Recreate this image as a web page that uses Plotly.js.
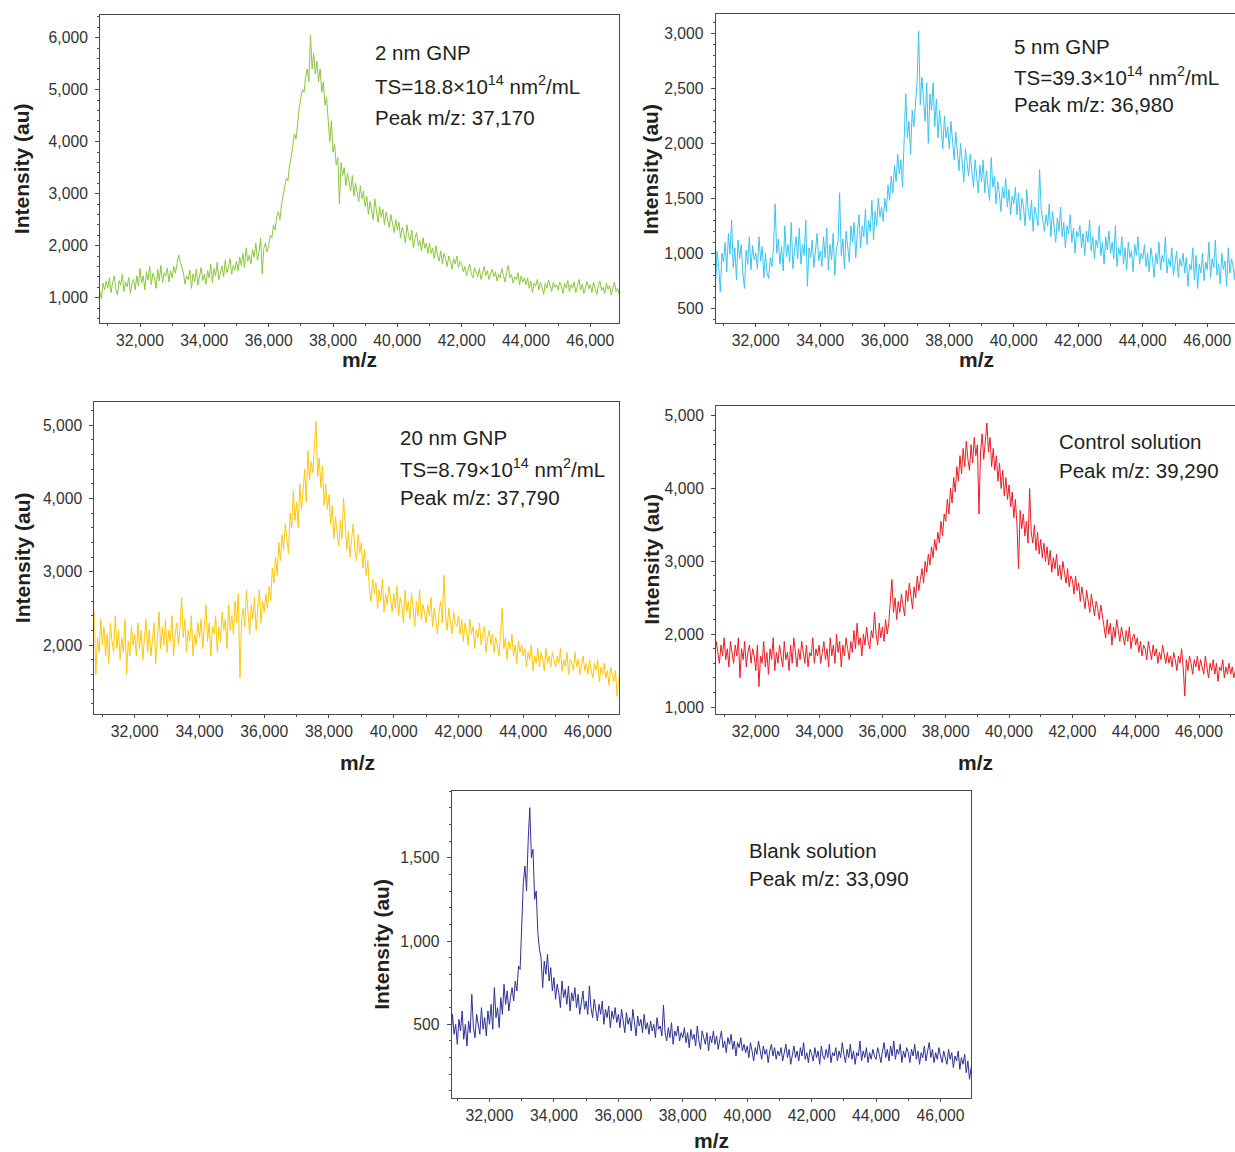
<!DOCTYPE html>
<html><head><meta charset="utf-8">
<script src="https://cdn.plot.ly/plotly-3.0.1.min.js"></script>
<style>html,body{margin:0;padding:0;background:#fff}</style>
</head><body>
<div id="chart" style="width:1235px;height:1152px"></div>
<script>
// m/z sampling of every spectrum (Plotly builds x from x0/dx)
const mzStart = 30700;
const mzStep = 50;

// 2 nm GNP (green)
const gnp2nm = [
 1250,1120,980,1280,1150,1320,
 1180,1380,1100,1290,1420,1160,1050,1330,1240,1450,1120,1300,1210,1390,1080,1270,1350,1150,1420,1230,
 1560,1280,1420,1150,1500,1340,1600,1250,1470,1380,1180,1550,1320,1620,1290,1480,1410,1570,1300,1520,
 1380,1600,1470,1650,1820,1700,1560,1480,1260,1420,1350,1530,1180,1460,1310,1550,1240,1400,1580,1330,
 1450,1260,1520,1380,1640,1290,1560,1420,1680,1350,1500,1610,1400,1720,1480,1580,1750,1450,1620,1530,
 1700,1520,1780,1620,1850,1580,1960,1700,1820,1650,1920,1780,2050,1720,1880,2150,1460,1950,2050,1880,
 2000,2200,2150,2400,2300,2550,2650,2500,2800,2950,3100,3300,3250,3550,3700,3950,4150,4050,4400,4650,
 4850,5000,4950,5250,5400,5150,6050,5400,5700,5300,5550,5150,5400,4950,5150,4700,4850,4350,4000,4400,
 3800,3950,3550,3700,2800,3600,3350,3500,3150,3400,3250,3050,3350,2950,3200,3050,2850,3150,2900,3050,
 2750,2950,2600,2850,2700,2500,2900,2650,2450,2750,2550,2700,2400,2650,2500,2350,2600,2450,2250,2500,
 2300,2450,2150,2350,2250,2050,2400,2200,2100,2300,1950,2150,2250,2000,2100,1900,2150,1950,2050,1850,
 2050,1850,1950,1750,2000,1800,1700,1900,1650,1850,1750,1600,1800,1700,1550,1750,1650,1800,1580,1700,
 1650,1500,1600,1420,1550,1650,1450,1380,1580,1500,1400,1560,1350,1480,1600,1420,1520,1350,1450,1550,
 1400,1500,1320,1450,1380,1560,1420,1300,1500,1620,1380,1450,1280,1400,1350,1480,1250,1420,1300,1380,
 1250,1380,1180,1320,1100,1280,1220,1350,1150,1300,1200,1060,1280,1180,1340,1220,1120,1300,1200,1250,
 1150,1300,1220,1080,1280,1180,1330,1120,1250,1180,1300,1100,1220,1350,1150,1260,1080,1200,1310,1170,
 1250,1100,1300,1180,1060,1230,1320,1140,1200,1080,1280,1160,1240,1050,1210,1300,1120,1180,1060,1220,
 1150,1100,1200,1120
];

// 5 nm GNP (cyan)
const gnp5nm = [
 1050,700,1020,880,650,1000,
 920,1100,830,1180,990,1300,870,1050,760,1120,950,1080,820,680,1030,900,1150,850,1070,940,
 1000,860,1150,930,1060,780,1000,820,770,960,880,1050,1450,1000,1130,900,1060,840,1250,970,
 1080,920,1280,860,1020,1150,950,1230,900,1080,980,1300,700,1050,960,1120,870,1040,1180,930,
 1020,880,1150,960,1230,850,1080,940,1180,800,1050,1100,1550,980,1130,860,1200,1060,920,1250,
 1100,1280,960,1200,1350,1050,1250,1150,1400,1080,1300,1200,1480,1120,1380,1250,1500,1330,1420,1290,
 1500,1380,1620,1480,1700,1550,1800,1650,1900,1720,1850,1600,1950,2450,2050,2200,1900,2300,2150,2400,
 2550,3020,2350,2600,2400,2200,2550,2000,2450,2300,2550,2150,2400,2050,2300,2150,1950,2250,2050,2150,
 1950,2200,2050,1850,2100,1900,1750,2000,1850,1650,1950,1800,1700,1900,1750,1600,1850,1700,1550,1800,
 1650,1850,1550,1750,1620,1480,1870,1600,1700,1450,1650,1550,1380,1600,1500,1680,1420,1580,1350,1520,
 1450,1600,1350,1550,1300,1500,1420,1250,1580,1380,1300,1480,1200,1420,1350,1250,1760,1400,1300,1200,
 1350,1250,1450,1150,1380,1250,1100,1320,1200,1420,1150,1280,1050,1250,1180,1350,1100,1230,1000,1200,
 1150,1250,1050,1180,980,1200,1100,1300,1020,1150,950,1120,1050,1250,980,1100,900,1150,1030,1200,
 1000,1100,950,1250,880,1050,980,1150,900,1050,850,1100,960,1020,830,1080,980,1150,900,1000,
 950,1080,880,1000,830,1050,950,780,1000,900,1100,850,980,920,1150,820,950,880,1050,800,
 900,1020,780,950,880,1000,820,960,700,900,850,1050,760,980,680,900,820,1000,750,920,
 850,1100,780,950,870,1120,800,900,720,1000,850,930,700,1050,820,950,880,760,1020,850,
 900,800,950,850
];

// 20 nm GNP (yellow)
const gnp20nm = [
 2300,2450,1600,2100,1900,2350,
 2000,2250,1850,2150,1750,2300,2050,1900,2400,1950,2200,1800,2100,1900,2350,1600,2050,1850,2250,2000,
 2150,1850,2300,1950,2200,1800,2100,2350,1900,2200,1850,2050,2300,1750,2150,2450,1950,2250,2000,2350,
 1900,2200,2050,2400,1850,2150,2300,2000,2250,2650,2100,2350,1900,2200,2050,2400,1850,2150,2000,2300,
 2100,2350,1950,2200,2550,2050,2300,1850,2250,2150,2400,1900,2250,2050,2450,2200,2350,1950,2550,2200,
 2400,2150,2600,2300,2700,1550,2350,2500,2250,2750,2400,2150,2550,2350,2650,2200,2500,2750,2300,2600,
 2450,2700,2500,2800,2600,3050,2850,3200,2950,3400,3150,3500,3300,3650,3450,3250,3800,3600,4100,3700,
 3950,3600,4200,3850,4100,4400,3950,4650,4250,4500,4350,4700,5050,4300,4550,4150,4450,3900,4200,3850,
 4050,3650,3900,3450,3750,3550,3350,3700,3450,4000,3600,3300,3550,3200,3450,3650,3300,3150,3500,3250,
 3400,3050,3300,2950,3150,2750,2600,2900,2700,2850,2500,2750,2600,2900,2450,2700,2550,2800,2650,2450,
 2700,2500,2800,2400,2650,2550,2300,2750,2450,2600,2350,2700,2500,2250,2600,2400,2750,2350,2550,2450,
 2300,2550,2400,2650,2250,2500,2350,2150,2450,2600,2300,2950,2400,2200,2500,2350,2150,2450,2300,2250,
 2400,2150,2350,2050,2300,2200,2000,2350,2150,2250,1950,2200,2100,2300,2000,2150,2250,1900,2100,2200,
 2000,2150,1900,2100,2000,1850,2200,2500,1950,2100,1800,2050,1950,2150,1850,2000,1750,2050,1900,2000,
 1850,1950,1700,1900,1800,2000,1650,1850,1750,1950,1700,1900,1800,1650,1950,1750,1850,1700,1900,1800,
 1700,1850,1750,1950,1650,1800,1700,1900,1600,1800,1750,1650,1900,1700,1800,1600,1750,1850,1650,1750,
 1600,1800,1650,1550,1750,1650,1800,1500,1700,1600,1750,1550,1650,1450,1700,1600,1500,1650,1300,1550,
 1600,1500,1550,1450
];

// Control solution (red)
const control = [
 1650,1900,1750,1600,1850,1700,
 1950,1650,1800,1550,1900,1750,1600,1850,1700,1950,1400,1800,1650,1900,1550,1750,1850,1600,1800,1700,
 1500,1850,1280,1700,1600,1900,1550,1750,1450,1800,1650,1950,1500,1750,1600,1850,1700,1550,1900,1650,
 1750,1500,1850,1600,1950,1700,1550,1800,1650,1900,1750,1600,1850,1550,1750,1700,1950,1600,1800,1700,
 1850,1600,1750,1900,1650,1800,1550,1950,1700,1850,1600,2000,1750,1900,1550,1850,1700,1950,1800,1650,
 1900,1750,2050,1800,2150,1850,1950,1700,2000,1850,2100,1900,1800,2050,1950,2300,2000,1850,2150,1950,
 2100,1900,2200,2000,2150,2400,2750,2300,2500,2200,2450,2300,2550,2400,2250,2600,2450,2700,2500,2350,
 2650,2500,2800,2600,2750,2900,2700,3000,2850,3100,2950,3200,3050,3300,3150,3400,3250,3550,3350,3650,
 3550,3850,3650,4000,3800,4150,3950,4300,4100,4450,4200,4550,4300,4650,4400,4250,4600,4350,4700,4450,
 4600,3650,4500,4750,4400,4650,4900,4500,4700,4300,4550,4250,4450,4100,4350,4000,4250,3900,4150,3850,
 4050,3750,3950,3600,3850,3500,2900,3700,3450,3650,3350,3550,3250,4000,3400,3250,3500,3150,3400,3100,
 3300,3050,3250,3000,3200,2950,3150,2850,3050,2900,3100,2800,2950,2750,3000,2850,2700,2900,2650,2800,
 2750,2550,2800,2600,2700,2450,2650,2500,2350,2600,2450,2300,2550,2400,2250,2450,2350,2200,2400,2250,
 2100,1950,2200,2000,2150,1850,2100,1950,2200,2050,1900,2100,1950,1850,2050,1900,2100,1800,1950,2000,
 1850,1950,1750,1900,1700,1850,1800,1650,1900,1750,1650,1850,1700,1800,1600,1750,1650,1850,1700,1600,
 1750,1600,1700,1550,1750,1650,1500,1700,1600,1800,1550,1150,1650,1500,1700,1600,1450,1650,1550,1700,
 1500,1650,1550,1450,1700,1550,1400,1600,1500,1650,1450,1600,1350,1550,1500,1650,1400,1550,1450,1600,
 1450,1550,1400,1500
];

// Blank solution (navy)
const blank = [
 470,520,420,560,440,500,
 380,530,460,580,410,500,370,520,450,680,480,420,560,500,440,600,470,540,430,580,
 500,620,470,720,540,600,480,660,560,740,620,700,580,660,720,640,760,700,850,830,
 1100,1350,1450,1300,1600,1800,1500,1550,1250,1300,1050,950,900,720,880,800,920,760,840,700,
 780,650,740,690,600,760,660,710,620,730,580,690,640,720,600,680,560,650,700,590,
 640,560,730,600,540,650,580,520,620,560,640,500,590,540,610,480,580,530,600,510,
 560,480,590,520,450,570,500,540,460,590,510,430,550,490,530,450,560,470,510,440,
 520,460,500,420,540,470,490,430,615,450,400,480,420,510,380,460,430,490,400,450,
 420,480,390,450,360,470,410,440,370,490,400,350,460,410,380,450,340,430,390,460,
 380,430,350,410,460,360,400,330,420,380,440,350,400,310,390,360,420,340,380,330,
 370,300,390,340,280,360,320,400,330,290,370,320,350,270,340,380,310,360,290,340,
 310,360,280,340,380,300,350,260,330,370,300,340,280,360,310,390,290,330,270,350,
 320,280,360,300,340,260,370,310,290,350,300,380,270,330,310,360,280,340,300,390,
 320,270,350,300,380,290,340,260,330,310,400,280,340,300,360,270,330,290,350,310,
 290,360,320,270,340,390,300,350,280,370,310,400,290,350,320,380,270,340,300,360,
 330,270,350,310,380,290,340,260,330,300,370,280,340,390,300,350,270,330,290,360,
 310,270,340,300,260,350,290,330,240,310,280,340,230,300,260,320,210,280,170,240,
 200,260,220,250
];

// Text labels
const labels2nm = ['2 nm GNP', 'TS=18.8×10<sup>14</sup> nm<sup>2</sup>/mL', 'Peak m/z: 37,170'];
const labels5nm = ['5 nm GNP', 'TS=39.3×10<sup>14</sup> nm<sup>2</sup>/mL', 'Peak m/z: 36,980'];
const labels20nm = ['20 nm GNP', 'TS=8.79×10<sup>14</sup> nm<sup>2</sup>/mL', 'Peak m/z: 37,790'];
const labelsControl = ['Control solution', 'Peak m/z: 39,290'];
const labelsBlank = ['Blank solution', 'Peak m/z: 33,090'];
const xTitle = 'm/z';
const yTitle = 'Intensity (au)';

// ---------- layout (pixel geometry of the page) ----------
const W = 1235, H = 1152;
const FONT = 'Liberation Sans, Arial, Helvetica, sans-serif';
const fx = p => p / W;
const fy = p => 1 - p / H;

const panels = [
  {y: gnp2nm, color: '#8dc63f', box: [100, 619, 15, 323], xr: [30756, 46892], yr: [513, 6436], dy: 1000, my: 200,
   labels: labels2nm, tx: 372.7, ty: [53, 85, 117], ytx: 22.2, yty: 169, mzx: 359.7, mzy: 359, yMirror: true},
  {y: gnp5nm, color: '#3bc3ef', box: [715.7, 1235, 13.7, 323], xr: [30757, 46859], yr: [366, 3178], dy: 500, my: 100,
   labels: labels5nm, tx: 1012.3, ty: [46.5, 76, 104.5], ytx: 650.8, yty: 169, mzx: 976.3, mzy: 359, yMirror: false},
  {y: gnp20nm, color: '#ffc60b', box: [94.3, 618.7, 401.7, 714.3], xr: [30752, 46948], yr: [1055, 5318], dy: 1000, my: 200,
   labels: labels20nm, tx: 398.3, ty: [437, 467.5, 497], ytx: 22.2, yty: 558, mzx: 357, mzy: 762, yMirror: true},
  {y: control, color: '#ed1c24', box: [716, 1235, 405.7, 713.7], xr: [30743, 47137], yr: [908, 5137], dy: 1000, my: 200,
   labels: labelsControl, tx: 1056.7, ty: [441, 470.5], ytx: 650.8, yty: 559, mzx: 975.5, mzy: 762, yMirror: false},
  {y: blank, color: '#2e3192', box: [451.7, 971, 790.7, 1098.3], xr: [30826, 46947], yr: [56, 1902], dy: 500, my: 100,
   labels: labelsBlank, tx: 746.7, ty: [850, 878.5], ytx: 380.8, yty: 944, mzx: 711.2, mzy: 1140, yMirror: true}
];

const AXC = '#4a4a4a';
const traces = [];
const layout = {
  width: W, height: H,
  margin: {l: 0, r: 0, t: 0, b: 0},
  paper_bgcolor: '#fff', plot_bgcolor: '#fff',
  showlegend: false,
  annotations: [],
  font: {family: FONT}
};

panels.forEach((p, i) => {
  const n = i === 0 ? '' : String(i + 1);
  traces.push({
    type: 'scatter', mode: 'lines',
    x0: mzStart, dx: mzStep, y: p.y,
    xaxis: 'x' + n, yaxis: 'y' + n,
    line: {color: p.color, width: 1},
    hoverinfo: 'skip'
  });
  const common = {
    showline: true, linecolor: AXC, linewidth: 1,
    ticks: 'outside', tickwidth: 1, tickcolor: AXC,
    tickformat: ',d', tickmode: 'linear', tick0: 0,
    tickfont: {family: FONT, size: 15.7, color: '#333'},
    showgrid: false, zeroline: false, fixedrange: true
  };
  layout['xaxis' + n] = Object.assign({}, common, {
    domain: [fx(p.box[0]), fx(p.box[1])], range: p.xr, anchor: 'y' + n,
    dtick: 2000, mirror: true, ticklen: 3, ticklabelstandoff: 0,
    minor: {dtick: 1000, tick0: 0, ticks: 'outside', ticklen: 2, tickcolor: AXC, showgrid: false}
  });
  layout['yaxis' + n] = Object.assign({}, common, {
    domain: [fy(p.box[3]), fy(p.box[2])], range: p.yr, anchor: 'x' + n,
    dtick: p.dy, mirror: p.yMirror, ticklen: 4, ticklabelstandoff: 4,
    minor: {dtick: p.my, tick0: 0, ticks: 'outside', ticklen: 2, tickcolor: AXC, showgrid: false}
  });
  p.labels.forEach((t, k) => {
    layout.annotations.push({
      xref: 'paper', yref: 'paper', x: fx(p.tx), y: fy(p.ty[k]),
      xanchor: 'left', yanchor: 'middle', showarrow: false, text: t,
      font: {family: FONT, size: 20.5, color: '#231f20'}
    });
  });
  layout.annotations.push({
    xref: 'paper', yref: 'paper', x: fx(p.ytx), y: fy(p.yty),
    xanchor: 'center', yanchor: 'middle', showarrow: false, textangle: -90,
    text: '<b>' + yTitle + '</b>', font: {family: FONT, size: 21, color: '#231f20'}
  });
  layout.annotations.push({
    xref: 'paper', yref: 'paper', x: fx(p.mzx), y: fy(p.mzy),
    xanchor: 'center', yanchor: 'middle', showarrow: false,
    text: '<b>' + xTitle + '</b>', font: {family: FONT, size: 21, color: '#231f20'}
  });
});

Plotly.newPlot('chart', traces, layout, {staticPlot: true, displayModeBar: false});
</script>
</body></html>
